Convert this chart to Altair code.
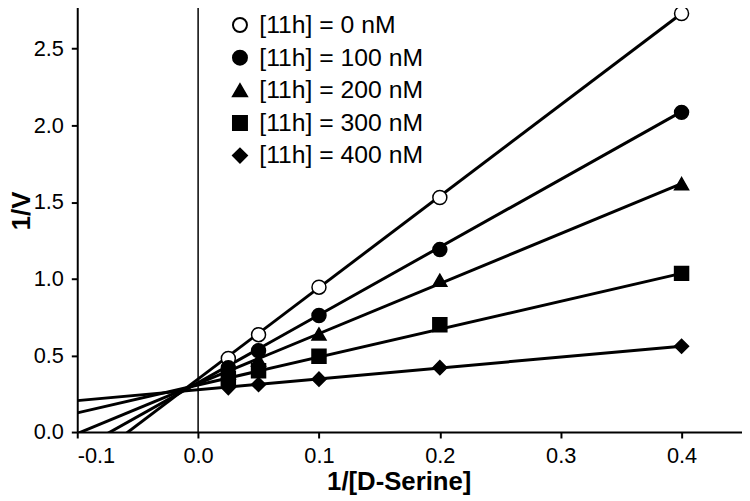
import altair as alt
import pandas as pd

# ---- data ----
series = ["[11h] = 0 nM", "[11h] = 100 nM", "[11h] = 200 nM", "[11h] = 300 nM", "[11h] = 400 nM"]
x_points = [0.025, 0.05, 0.1, 0.2, 0.4]
y_0nM = [0.48, 0.635, 0.945, 1.53, 2.73]
y_100nM = [0.42, 0.53, 0.76, 1.19, 2.085]
y_200nM = [0.385, 0.47, 0.64, 0.99, 1.62]
y_300nM = [0.35, 0.40, 0.495, 0.70, 1.035]
y_400nM = [0.29, 0.31, 0.345, 0.42, 0.56]

# fitted line end points (at x = -0.1 and x = 0.4)
line_x = [-0.1, 0.4]
line_0nM = [-0.25, 2.73]
line_100nM = [-0.12, 2.09]
line_200nM = [-0.01, 1.62]
line_300nM = [0.125, 1.035]
line_400nM = [0.205, 0.56]

x_ticks = [-0.1, 0.0, 0.1, 0.2, 0.3, 0.4]
y_ticks = [0.0, 0.5, 1.0, 1.5, 2.0, 2.5]

shapes = ["circle", "circle", "triangle-up", "square", "diamond"]
fills = ["white", "black", "black", "black", "black"]
strokes = ["black", "black", "black", "black", "black"]

FONT = "Liberation Sans, Arial, Helvetica, sans-serif"

point_rows = []
for s, ys in zip(series, [y_0nM, y_100nM, y_200nM, y_300nM, y_400nM]):
    for x, y in zip(x_points, ys):
        point_rows.append({"series": s, "x": x, "y": y})
points_df = pd.DataFrame(point_rows)

line_rows = []
for s, ys in zip(series, [line_0nM, line_100nM, line_200nM, line_300nM, line_400nM]):
    for x, y in zip(line_x, ys):
        line_rows.append({"series": s, "x": x, "y": y})
lines_df = pd.DataFrame(line_rows)

zero_df = pd.DataFrame({"x": [0.0]})

xscale = alt.Scale(domain=[-0.1, 0.45], nice=False, zero=False)
yscale = alt.Scale(domain=[0, 2.8], nice=False, zero=False)

label_expr = "replace(format(datum.value, '.1f'), '\u2212', '-')"

x_axis = alt.Axis(
    values=x_ticks, labelExpr=label_expr, title="1/[D-Serine]",
    titleX=325, titleY=50, titleBaseline="middle", titleAlign="center",
)
y_axis = alt.Axis(
    values=y_ticks, labelExpr=label_expr, title="1/V",
    titleX=-56, titleY=210, titleBaseline="middle", titleAlign="center", titleAngle=-90,
)

legend = alt.Legend(
    orient="none", legendX=152, legendY=10, title=None,
    labelFontSize=25, labelFont=FONT, labelColor="black", labelLimit=400,
    symbolSize=200, symbolStrokeWidth=2,
    rowPadding=7, labelOffset=7, padding=0,
)

rule = alt.Chart(zero_df).mark_rule(color="black", strokeWidth=1.5).encode(
    x=alt.X("x:Q", scale=xscale, axis=x_axis)
)

lines = alt.Chart(lines_df).mark_line(color="black", strokeWidth=3, clip=True).encode(
    x=alt.X("x:Q", scale=xscale, axis=x_axis),
    y=alt.Y("y:Q", scale=yscale, axis=y_axis),
    detail="series:N",
)

points = alt.Chart(points_df).mark_point(
    strokeWidth=1.5, opacity=1, fillOpacity=1, size=200
).encode(
    x=alt.X("x:Q", scale=xscale, axis=x_axis),
    y=alt.Y("y:Q", scale=yscale, axis=y_axis),
    shape=alt.Shape("series:N", scale=alt.Scale(domain=series, range=shapes), legend=legend),
    fill=alt.Fill("series:N", scale=alt.Scale(domain=series, range=fills), legend=legend),
    stroke=alt.Stroke("series:N", scale=alt.Scale(domain=series, range=strokes), legend=legend),
)

chart = (
    alt.layer(rule, lines, points)
    .properties(
        width=672, height=434,
        autosize=alt.AutoSizeParams(type="none"),
        padding={"left": 70, "top": -8, "right": 0, "bottom": 66},
    )
    .configure_view(strokeWidth=0)
    .configure_axis(
        grid=False,
        domainColor="black", domainWidth=2,
        tickColor="black", tickWidth=2, tickSize=6,
        labelFont=FONT, labelFontSize=22, labelColor="black", labelPadding=8,
        titleFont=FONT, titleFontSize=26, titleFontWeight="bold", titleColor="black",
    )
)

chart.save("out.html", embed_options={"renderer": "svg", "actions": False})
